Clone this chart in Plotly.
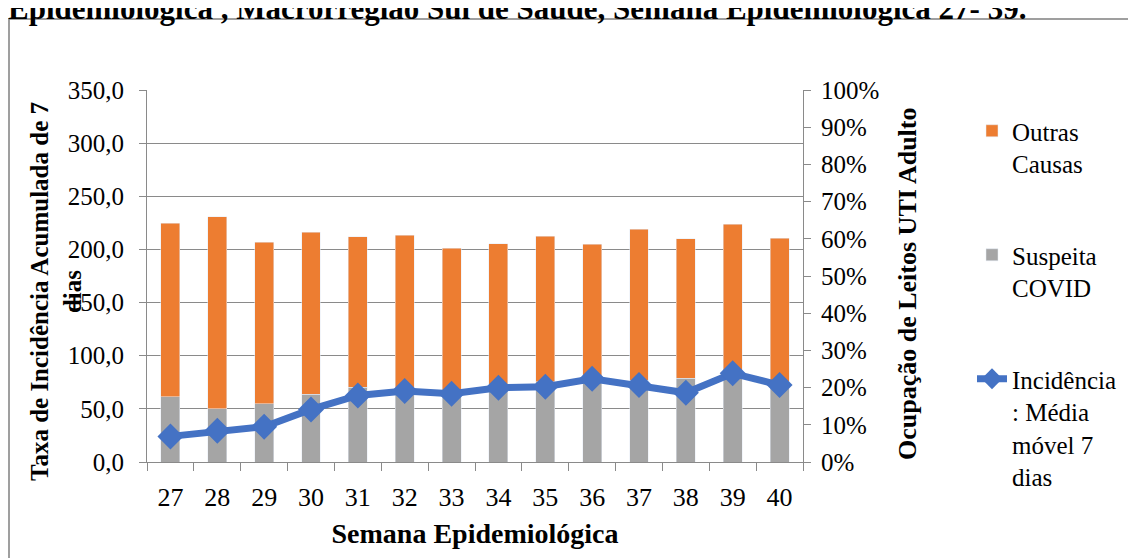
import plotly.graph_objects as go

# semanas epidemiológicas
semanas = ["27", "28", "29", "30", "31", "32", "33", "34", "35", "36", "37", "38", "39", "40"]

# ocupação de leitos UTI adulto (%)
suspeita_covid = [17.5, 14.3, 15.6, 18.2, 20.1, 19.5, 18.9, 20.2, 21.6, 22.0, 22.0, 22.5, 22.9, 21.6]
outras_causas = [46.7, 51.6, 43.5, 43.5, 40.4, 41.4, 38.5, 38.5, 39.1, 36.5, 40.6, 37.5, 41.0, 38.6]

# incidência: média móvel 7 dias
incidencia = [24.1, 29.4, 33.2, 49.5, 62.6, 66.7, 64.2, 69.8, 70.8, 78.3, 72.4, 65.1, 83.4, 72.4]

# a página tem 8px de margem no body, então a figura é deslocada
OFF = 8
W, H = 1136 - OFF, 558 - OFF
L, R, T, B = 147 - OFF, 803 - OFF, 90 - OFF, 462 - OFF
SERIF = "Liberation Serif"
GRID = "#8a8a8a"


def px_x(px):
    # px = posição na tela
    return (px - OFF - L) / (R - L)


def px_y(py):
    return (B - (py - OFF)) / (B - T)


fig = go.Figure()

fig.add_trace(go.Bar(
    x=semanas, y=suspeita_covid, name="Suspeita<br>COVID",
    marker=dict(color="#A5A5A5"), yaxis="y",
    legendgroup="g2", legendrank=2,
))
fig.add_trace(go.Bar(
    x=semanas, y=outras_causas, name="Outras<br>Causas",
    marker=dict(color="#ED7D31"), yaxis="y",
    legendgroup="g1", legendrank=1,
))
fig.add_trace(go.Scatter(
    x=semanas, y=incidencia, name="Incidência<br>: Média<br>móvel 7<br>dias",
    mode="lines+markers", yaxis="y2",
    line=dict(color="#4472C4", width=7),
    marker=dict(symbol="diamond", size=20, color="#4472C4"),
    legendgroup="g3", legendrank=3,
))

fig.update_layout(
    width=W, height=H,
    margin=dict(l=L, r=W - R, t=T, b=H - B),
    paper_bgcolor="white", plot_bgcolor="white",
    separators=",.",
    barmode="stack", bargap=0.595,
    font=dict(family=SERIF, size=25, color="black"),
    xaxis=dict(
        type="category", range=[-0.5, len(semanas) - 0.5],
        showline=True, linecolor=GRID, linewidth=1,
        ticks="outside", ticklen=8, tickcolor=GRID, tickson="boundaries",
        ticklabelstandoff=12,
        tickfont=dict(size=26),
        title=dict(text="<b>Semana Epidemiológica</b>", font=dict(size=28), standoff=12),
    ),
    yaxis=dict(
        side="right", range=[0, 100], dtick=10, ticksuffix="%",
        showgrid=False, zeroline=False,
        showline=True, linecolor=GRID, ticks="outside", ticklen=7, tickcolor=GRID,
        ticklabelstandoff=5, tickfont=dict(size=25),
    ),
    yaxis2=dict(
        side="left", overlaying="y", range=[0, 350], dtick=50, tickformat=".1f",
        showgrid=True, gridcolor=GRID, gridwidth=1, zeroline=False,
        showline=True, linecolor=GRID, ticks="outside", ticklen=7, tickcolor=GRID,
        ticklabelstandoff=10, tickfont=dict(size=25),
    ),
    legend=dict(
        x=px_x(972), y=px_y(108), xanchor="left", yanchor="top",
        traceorder="grouped", tracegroupgap=56, valign="top",
        font=dict(size=25), bgcolor="rgba(0,0,0,0)", maxheight=600,
    ),
    showlegend=True,
)

# títulos dos eixos verticais
fig.add_annotation(
    x=px_x(56), y=px_y(292), xref="paper", yref="paper",
    xanchor="center", yanchor="middle",
    text="<b>Taxa de Incidência Acumulada de 7<br>dias</b>",
    textangle=-90, showarrow=False, font=dict(size=25),
)
fig.add_annotation(
    x=px_x(907), y=px_y(284), xref="paper", yref="paper",
    xanchor="center", yanchor="middle",
    text="<b>Ocupação de Leitos UTI Adulto</b>",
    textangle=-90, showarrow=False, font=dict(size=26),
)

# título cortado no topo
fig.add_annotation(
    x=px_x(6), y=px_y(28), xref="paper", yref="paper",
    xanchor="left", yanchor="bottom",
    text="<b>Epidemiológica , Macrorregião Sul de Saúde, Semana Epidemiológica 27- 39.</b>",
    showarrow=False, font=dict(size=31),
)

# moldura do gráfico
fig.add_shape(
    type="rect", xref="paper", yref="paper",
    x0=px_x(9), x1=px_x(1141), y0=px_y(563), y1=px_y(19),
    line=dict(color="#808080", width=1.5), fillcolor="rgba(0,0,0,0)",
)

fig.write_html("out.html")
